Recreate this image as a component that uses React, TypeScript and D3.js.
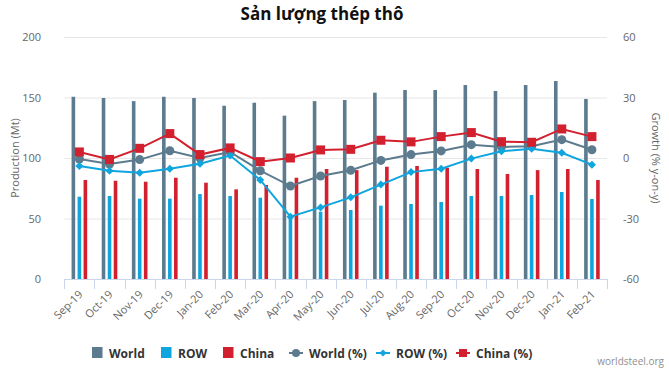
import React, { useEffect, useRef } from "react";
import * as d3 from "d3";

const categories = ["Sep-19","Oct-19","Nov-19","Dec-19","Jan-20","Feb-20","Mar-20","Apr-20","May-20","Jun-20","Jul-20","Aug-20","Sep-20","Oct-20","Nov-20","Dec-20","Jan-21","Feb-21"];
const worldProd = [150.6,149.6,147.0,150.6,149.6,143.2,145.7,135.0,147.0,147.9,154.0,156.2,156.2,160.3,155.4,160.3,163.6,148.8];
const rowProd = [68.0,68.6,66.4,66.4,70.2,68.6,67.2,52.0,55.6,57.0,60.6,62.0,63.6,68.6,68.6,69.4,71.9,66.1];
const chinaProd = [81.8,81.2,80.4,83.7,79.6,74.1,77.7,83.7,90.9,90.0,92.8,93.4,92.0,90.9,86.8,90.0,90.9,81.8];
const worldPct = [-0.5,-3.0,-0.8,3.6,0.0,3.0,-6.3,-13.9,-8.9,-6.1,-1.2,1.7,3.5,6.6,5.5,5.8,9.1,4.1];
const rowPct = [-4.0,-6.3,-7.3,-5.3,-2.8,1.2,-10.9,-29.1,-24.5,-19.5,-13.2,-7.0,-5.3,-0.3,3.3,4.6,2.6,-3.3];
const chinaPct = [3.0,-0.7,4.8,12.1,1.7,5.0,-1.8,0.0,4.0,4.3,8.8,8.0,10.6,12.6,8.1,7.8,14.4,10.6];
const leftTicks = [0,50,100,150,200];
const rightTicks = [-60,-30,0,30,60];

const C_WORLD = "#5c7b8e";
const C_ROW = "#0fa5df";
const C_CHINA = "#d2202f";

export default function App() {
  const ref = useRef<SVGSVGElement>(null);
  useEffect(() => {
    const svg = d3.select(ref.current);
    svg.selectAll("*").remove();
    const W = 669, H = 375;
    const x0 = 64.3, x1 = 607, yTop = 37, yBot = 279;
    const x = d3.scaleBand().domain(categories).range([x0, x1]);
    const yL = d3.scaleLinear().domain([0, 200]).range([yBot, yTop]);
    const yR = d3.scaleLinear().domain([-60, 60]).range([yBot, yTop]);
    const font = "'Open Sans', 'DejaVu Sans', sans-serif";

    svg.append("rect").attr("width", W).attr("height", H).attr("fill", "#fff");

    // title
    svg.append("text").attr("x", 322).attr("y", 20).attr("text-anchor", "middle")
      .attr("font-family", font).attr("font-weight", 700).attr("font-size", 17).attr("fill", "#111")
      .text("Sản lượng thép thô");

    // grid
    svg.append("g").selectAll("line").data(leftTicks.filter(t => t !== 0)).join("line")
      .attr("x1", x0).attr("x2", x1).attr("y1", d => yL(d) + 0.5).attr("y2", d => yL(d) + 0.5)
      .attr("stroke", "#e6e6e6").attr("stroke-width", 1);

    // left ticks
    svg.append("g").selectAll("text").data(leftTicks).join("text")
      .attr("x", 41).attr("y", d => yL(d) + 4).attr("text-anchor", "end")
      .attr("font-family", font).attr("font-size", 11).attr("fill", "#666").text(d => d);
    svg.append("g").selectAll("text").data(rightTicks).join("text")
      .attr("x", 623).attr("y", d => yR(d) + 4).attr("text-anchor", "start")
      .attr("font-family", font).attr("font-size", 11).attr("fill", "#666").text(d => d);

    // axis titles
    svg.append("text").attr("transform", `translate(19,${(yTop + yBot) / 2}) rotate(-90)`)
      .attr("text-anchor", "middle").attr("font-family", font).attr("font-size", 11).attr("fill", "#666")
      .text("Production (Mt)");
    svg.append("text").attr("transform", `translate(652,${(yTop + yBot) / 2}) rotate(90)`)
      .attr("text-anchor", "middle").attr("font-family", font).attr("font-size", 11).attr("fill", "#666")
      .text("Growth (% y-on-y)");

    // x axis line & ticks
    svg.append("line").attr("x1", x0).attr("x2", x1).attr("y1", yBot + 0.5).attr("y2", yBot + 0.5)
      .attr("stroke", "#ccd6eb");
    const tickPos = categories.map(c => x(c)!).concat([x1]);
    svg.append("g").selectAll("line").data(tickPos).join("line")
      .attr("x1", d => Math.round(d) + 0.5).attr("x2", d => Math.round(d) + 0.5)
      .attr("y1", yBot).attr("y2", yBot + 10).attr("stroke", "#ccd6eb");

    // x labels
    const bw = x.bandwidth();
    svg.append("g").selectAll("text").data(categories).join("text")
      .attr("transform", d => `translate(${x(d)! + bw / 2 + 4},${yBot + 16}) rotate(-45)`)
      .attr("text-anchor", "end").attr("font-family", font).attr("font-size", 11).attr("fill", "#666")
      .text(d => d);

    // bars
    const barW = 3.6, gap = 2.4;
    const series = [
      { v: worldProd, c: C_WORLD, off: -1 },
      { v: rowProd, c: C_ROW, off: 0 },
      { v: chinaProd, c: C_CHINA, off: 1 },
    ];
    series.forEach(s => {
      svg.append("g").selectAll("rect").data(categories).join("rect")
        .attr("x", (d) => x(d)! + bw / 2 + s.off * (barW + gap) - barW / 2)
        .attr("width", barW)
        .attr("y", (d, i) => yL(s.v[i]))
        .attr("height", (d, i) => yBot - yL(s.v[i]))
        .attr("fill", s.c);
    });

    // lines
    const lineSeries = [
      { v: worldPct, c: C_WORLD, m: "circle" },
      { v: rowPct, c: C_ROW, m: "diamond" },
      { v: chinaPct, c: C_CHINA, m: "square" },
    ];
    lineSeries.forEach(s => {
      const line = d3.line<number>().x((d, i) => x(categories[i])! + bw / 2).y(d => yR(d));
      svg.append("path").attr("d", line(s.v)).attr("fill", "none").attr("stroke", s.c).attr("stroke-width", 2);
      const g = svg.append("g");
      s.v.forEach((v, i) => {
        const cx = x(categories[i])! + bw / 2, cy = yR(v);
        if (s.m === "circle") g.append("circle").attr("cx", cx).attr("cy", cy).attr("r", 4.5).attr("fill", s.c);
        else if (s.m === "diamond") g.append("path").attr("d", `M${cx},${cy - 4}L${cx + 4},${cy}L${cx},${cy + 4}L${cx - 4},${cy}Z`).attr("fill", s.c);
        else g.append("rect").attr("x", cx - 4.5).attr("y", cy - 4.5).attr("width", 9).attr("height", 9).attr("fill", s.c);
      });
    });

    // legend
    const ly = 353;
    const leg = svg.append("g").attr("font-family", font).attr("font-weight", 700).attr("font-size", 12).attr("fill", "#333");
    const items = [
      { t: "World", c: C_WORLD, m: "box", x: 92 },
      { t: "ROW", c: C_ROW, m: "box", x: 161 },
      { t: "China", c: C_CHINA, m: "box", x: 223 },
      { t: "World (%)", c: C_WORLD, m: "circle", x: 289 },
      { t: "ROW (%)", c: C_ROW, m: "diamond", x: 376 },
      { t: "China (%)", c: C_CHINA, m: "square", x: 456 },
    ];
    items.forEach(it => {
      if (it.m === "box") {
        leg.append("rect").attr("x", it.x).attr("y", ly - 6).attr("width", 10.5).attr("height", 11).attr("fill", it.c);
        leg.append("text").attr("x", it.x + 17).attr("y", ly + 4.5).text(it.t);
      } else {
        const cx = it.x + 7;
        leg.append("line").attr("x1", it.x).attr("x2", it.x + 14).attr("y1", ly).attr("y2", ly).attr("stroke", it.c).attr("stroke-width", 2);
        if (it.m === "circle") leg.append("circle").attr("cx", cx).attr("cy", ly).attr("r", 4).attr("fill", it.c);
        else if (it.m === "diamond") leg.append("path").attr("d", `M${cx},${ly - 3.5}L${cx + 3.5},${ly}L${cx},${ly + 3.5}L${cx - 3.5},${ly}Z`).attr("fill", it.c);
        else leg.append("rect").attr("x", cx - 4).attr("y", ly - 4).attr("width", 8).attr("height", 8).attr("fill", it.c);
        leg.append("text").attr("x", it.x + 20).attr("y", ly + 4.5).text(it.t);
      }
    });

    svg.append("text").attr("x", 664).attr("y", 365).attr("text-anchor", "end")
      .attr("font-family", font).attr("font-size", 10).attr("fill", "#909090").text("worldsteel.org");
  }, []);
  return <svg ref={ref} width={669} height={375} style={{ position: "absolute", left: 0, top: 0 }} />;
}
